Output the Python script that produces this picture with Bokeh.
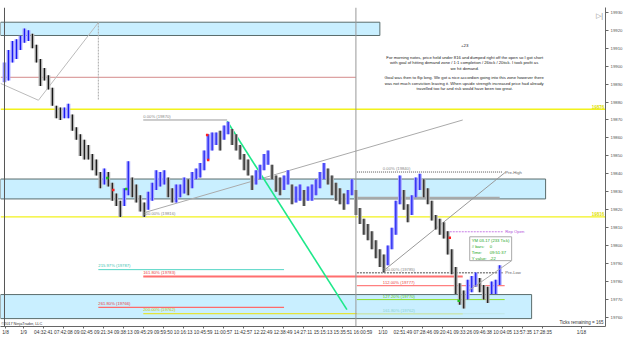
from bokeh.plotting import figure
from bokeh.models import Range1d, FixedTicker, Label, Span, ColumnDataSource, CustomJSTickFormatter
from bokeh.embed import file_html
from bokeh.resources import INLINE

FONT = "Liberation Sans"

# ---------------- data ----------------
# 233-tick bars, one entry per bar (index 0..124)
highs = [19902, 19909, 19914, 19915, 19917, 19921, 19920, 19918, 19912, 19904,
         19899, 19895, 19888, 19878, 19877, 19877, 19879, 19873, 19866, 19862,
         19859, 19856, 19851, 19848, 19841, 19843, 19841, 19835, 19829, 19825,
         19832, 19847, 19838, 19834, 19828, 19824, 19830, 19835, 19842, 19841,
         19842, 19838, 19832, 19834, 19834, 19838, 19837, 19841, 19843, 19846,
         19853, 19862, 19863, 19863, 19864, 19867, 19869, 19865, 19862, 19856,
         19851, 19848, 19839, 19842, 19845, 19851, 19853, 19845, 19839, 19838,
         19839, 19842, 19834, 19833, 19834, 19831, 19833, 19834, 19837, 19841,
         19846, 19843, 19839, 19835, 19832, 19829, 19831, 19837, 19831, 19821,
         19815, 19812, 19808, 19803, 19798, 19795, 19800, 19810, 19825, 19839,
         19831, 19823, 19828, 19838, 19840, 19837, 19832, 19825, 19817, 19815,
         19813, 19808, 19798, 19788, 19779, 19775, 19781, 19783, 19785, 19782,
         19778, 19777, 19780, 19781, 19789]
lows = [19891, 19892, 19902, 19904, 19909, 19913, 19914, 19910, 19902, 19889,
        19892, 19887, 19878, 19871, 19870, 19871, 19871, 19864, 19859, 19850,
        19848, 19848, 19842, 19839, 19832, 19834, 19833, 19825, 19822, 19816,
        19822, 19828, 19827, 19824, 19819, 19816, 19820, 19825, 19831, 19833,
        19834, 19827, 19824, 19824, 19827, 19829, 19828, 19832, 19837, 19838,
        19842, 19848, 19853, 19856, 19853, 19859, 19862, 19856, 19853, 19848,
        19842, 19839, 19831, 19834, 19837, 19842, 19845, 19837, 19830, 19828,
        19831, 19834, 19823, 19824, 19825, 19822, 19825, 19825, 19828, 19832,
        19837, 19834, 19828, 19825, 19823, 19820, 19823, 19828, 19817, 19812,
        19806, 19803, 19798, 19793, 19788, 19785, 19789, 19798, 19806, 19823,
        19820, 19813, 19817, 19827, 19831, 19827, 19823, 19814, 19809, 19806,
        19804, 19795, 19784, 19773, 19767, 19765, 19770, 19774, 19777, 19774,
        19770, 19768, 19773, 19773, 19778]
bar_index = list(range(len(highs)))

tick_labels = ["1/8", "1/9", "04:32:41", "07:42:08", "09:02:45", "09:21:34", "09:38:13",
               "09:45:29", "09:59:50", "10:16:13", "10:45:59", "11:00:57", "11:42:57",
               "12:22:49", "12:38:49", "14:27:11", "15:15:13", "15:35:51", "16:00:59",
               "1/10", "02:51:49", "07:28:46", "09:20:41", "09:33:26", "09:46:38",
               "10:04:05", "13:57:35", "17:28:35", "1/18"]
price_ticks = [19760, 19770, 19780, 19790, 19800, 19810, 19820, 19830,
               19840, 19850, 19860, 19870, 19880, 19890, 19900, 19910, 19920, 19930]

# supply / demand zones
zone_left = [-1, -1, -1]
zone_right = [94, 135.5, 132]
zone_bottom = [19917.1, 19826.0, 19759.3]
zone_top = [19924.5, 19837.1, 19772.7]

# key levels
level_yellow = [19876, 19816]
level_red_top = 19893.8
last_price = 19788

# left fibonacci extension
fibL_price = [19786.6, 19782.7, 19765.6, 19762.1]
fibL_x0 = [23.5, 34.75, 23.5, 34.75]
fibL_x1 = [70, 114.75, 70, 114.75]
fibL_text = ["215.97% (19787)", "161.80% (19783)", "261.80% (19766)", "200.00% (19762)"]
fibL_color = ["#55d6c6", "#ff6f6f", "#ff6a6a", "#e4e43a"]
fibL_tcolor = ["#3cbfb0", "#e83a3a", "#e83a3a", "#c4c400"]
fibL_width = [1, 2, 1.2, 1.2]

# right fibonacci extension
fibR_price = [19841, 19784.9, 19777.7, 19769.9, 19762.0]
fibR_text = ["0.00% (19840)", "100.00% (19785)", "112.00% (19777)", "127.20% (19770)", "161.80% (19762)"]
fibR_color = ["#555555", "#888888", "#ff8080", "#8fdf2f", "#bfe6e6"]
fibR_tcolor = ["#888888", "#888888", "#e84040", "#5cbf1c", "#8ccfcf"]
fibR_dash = ["1 1", "2 1", "solid", "solid", "solid"]
fibR_width = [1, 1.6, 1.2, 1, 1]

# signal markers
sig_red_x = [27.25, 50.75, 51, 111.5]
sig_red_y = [19831, 19861.6, 19847.7, 19804.3]
sig_grn_x = [25.75, 30.5, 113.75]
sig_grn_y = [19837.7, 19831.6, 19769.3]

notes1 = ["For morning notes, price held under 816 and dumped right off the open so I got short",
          "with goal of hitting demand zone / 1:1 completion / 26tick / 20tick.  I took profit as",
          "we hit demand."]
notes2 = ["Goal was then to flip long.  We got a nice accordion going into this zone however there",
          "was not much conviction leaving it.  When upside strength increased price had already",
          "travelled too far and risk would have been too great."]

# ---------------- figure ----------------
p = figure(width=625, height=337, x_range=Range1d(-1, 150.5), y_range=Range1d(19754.9, 19932.7),
           output_backend="svg", toolbar_location=None, y_axis_location="right",
           min_border_left=0, min_border_right=19, min_border_top=7, min_border_bottom=10,
           background_fill_color="white", border_fill_color="white", outline_line_color=None)
p.xgrid.visible = False
p.ygrid.visible = False

# axes
tick_pos = [0.25, 4.75] + [9.75 + 5 * k for k in range(26)] + [144.5]
p.xaxis.ticker = FixedTicker(ticks=tick_pos)
p.xaxis.formatter = CustomJSTickFormatter(args=dict(labels=tick_labels), code="return labels[index] || '';")
p.xaxis.major_label_text_font = FONT
p.xaxis.major_label_text_font_size = "4.8px"
p.xaxis.major_label_text_color = "#333333"
p.xaxis.major_tick_out = 2
p.xaxis.major_tick_in = 0
p.xaxis.minor_tick_out = 0
p.xaxis.minor_tick_in = 0
p.xaxis.major_label_standoff = 1
p.xaxis.axis_line_color = "#666666"
p.xaxis.major_tick_line_color = "#666666"

p.yaxis.ticker = FixedTicker(ticks=price_ticks)
p.yaxis.major_label_text_font = FONT
p.yaxis.major_label_text_font_size = "4.3px"
p.yaxis.major_label_text_color = "#555555"
p.yaxis.major_tick_out = 3
p.yaxis.major_tick_in = 0
p.yaxis.minor_tick_out = 0
p.yaxis.minor_tick_in = 0
p.yaxis.major_label_standoff = 2
p.yaxis.axis_line_color = "#666666"
p.yaxis.major_tick_line_color = "#666666"

# zones
p.quad(left=zone_left, right=zone_right, bottom=zone_bottom, top=zone_top,
       fill_color="#c9efff", line_color="#5a6c6c", line_width=1)

# session lines
p.add_layout(Span(location=0, dimension="height", line_color="#555555", line_width=1))
p.add_layout(Span(location=88, dimension="height", line_color="#999999", line_width=1))

# key horizontal levels
p.segment(x0=[-1], y0=[level_red_top], x1=[88], y1=[level_red_top], line_color="#d48a8a", line_width=1)
for lv in level_yellow:
    p.segment(x0=[-1], y0=[lv], x1=[150.5], y1=[lv], line_color="#f2f21c", line_width=1.3)
    p.add_layout(Label(x=150.2, y=lv + 0.4, text=str(lv), text_align="right", text_baseline="bottom",
                       text_font=FONT, text_font_size="4.5px", text_font_style="bold",
                       text_color="#e0e000"))

# drawing tool lines top-left
p.line(x=[-1, 8.5, 23.5], y=[19890.4, 19881, 19924.3], line_color="#bbbbbb", line_width=1)
p.segment(x0=[23.5], y0=[19924.3], x1=[23.5], y1=[19881], line_color="#aaaaaa", line_width=1, line_dash="2 1")

# left fib
p.segment(x0=[34.75], y0=[19870], x1=[55.75], y1=[19870], line_color="#9a9a9a", line_width=1)
p.segment(x0=[34.75], y0=[19818.2], x1=[114.75], y1=[19870], line_color="#aaaaaa", line_width=1)
p.add_layout(Label(x=34.75, y=19870.5, text="0.00% (19870)", text_font=FONT, text_font_size="4.2px",
                   text_color="#888888", text_baseline="bottom"))
p.add_layout(Label(x=34.75, y=19816.6, text="100.00% (19816)", text_font=FONT, text_font_size="4.2px",
                   text_color="#888888", text_baseline="bottom"))
for i in range(len(fibL_price)):
    p.segment(x0=[fibL_x0[i]], y0=[fibL_price[i]], x1=[fibL_x1[i]], y1=[fibL_price[i]],
              line_color=fibL_color[i], line_width=fibL_width[i])
    p.add_layout(Label(x=fibL_x0[i], y=fibL_price[i] + 0.7, text=fibL_text[i], text_font=FONT,
                       text_font_size="4.2px", text_color=fibL_tcolor[i], text_baseline="bottom"))

# green trend line
p.line(x=[55.75, 85.75], y=[19869.3, 19764.3], line_color="#1ee88a", line_width=1.6)

# right fib
for i in range(len(fibR_price)):
    x1 = 124.75 if i < 2 else 125.25
    p.segment(x0=[88.25], y0=[fibR_price[i]], x1=[x1], y1=[fibR_price[i]],
              line_color=fibR_color[i], line_width=fibR_width[i], line_dash=fibR_dash[i])
    p.add_layout(Label(x=94.75, y=fibR_price[i] + 0.6, text=fibR_text[i], text_font=FONT,
                       text_font_size="4.2px", text_color=fibR_tcolor[i], text_baseline="bottom"))
p.add_layout(Label(x=125.4, y=19841, text="Pre-High", text_font=FONT, text_font_size="4.2px",
                   text_color="#666666", text_baseline="middle"))
p.add_layout(Label(x=125.4, y=19784.9, text="Pre-Low", text_font=FONT, text_font_size="4.2px",
                   text_color="#666666", text_baseline="middle"))
p.segment(x0=[88.25], y0=[19826.6], x1=[124], y1=[19826.6], line_color="#aaaaaa", line_width=2)
p.segment(x0=[95.25], y0=[19786.6], x1=[125.5], y1=[19841], line_color="#999999", line_width=1)

# rep open
p.segment(x0=[110.75], y0=[19807.7], x1=[124.75], y1=[19807.7], line_color="#c77de6", line_width=1, line_dash="2 1")
p.add_layout(Label(x=125.4, y=19807.7, text="Rep Open", text_font=FONT, text_font_size="4.2px",
                   text_color="#b050d8", text_baseline="middle"))

# price bars
halo, core = [], []
for i in range(len(highs)):
    mid = (highs[i] + lows[i]) / 2
    prev = (highs[i - 1] + lows[i - 1]) / 2 if i > 0 else mid
    up = mid >= prev
    halo.append("#a3a3ff" if up else "#b4b4b4")
    core.append("#1a1af2" if up else "#151515")
src = ColumnDataSource(dict(x=bar_index, hi=highs, lo=lows, halo=halo, core=core))
p.vbar(x="x", bottom="lo", top="hi", width=0.95, fill_color="halo", line_color=None, source=src)
p.vbar(x="x", bottom="lo", top="hi", width=0.3, fill_color="core", line_color=None, source=src)

p.scatter(x=sig_red_x, y=sig_red_y, marker="square", size=2.5, fill_color="#ff2020", line_color=None)
p.scatter(x=sig_grn_x, y=sig_grn_y, marker="square", size=2.5, fill_color="#20c020", line_color=None)

# info box
p.segment(x0=[116.25], y0=[19774.9], x1=[127], y1=[19791.6], line_color="#aaaaaa", line_width=1)
p.quad(left=[116.5], right=[127], bottom=[19791.6], top=[19804.9], fill_color="white",
       line_color="#aaaaaa", line_width=1)
info_rows = [("YM 03-17 (233 Tick)", ""), ("# bars:", "0"), ("Time:", "09:51:37"), ("Y value:", "-22")]
for k, (a, b) in enumerate(info_rows):
    yy = 19802.6 - k * 3.3
    p.add_layout(Label(x=117, y=yy, text=a, text_font=FONT, text_font_size="4.2px",
                       text_color="#22a622", text_baseline="middle"))
    if b:
        p.add_layout(Label(x=121.5, y=yy, text=b, text_font=FONT, text_font_size="4.2px",
                           text_color="#22a622", text_baseline="middle"))

# notes
p.add_layout(Label(x=115.25, y=19911.6, text="+23", text_font=FONT, text_font_size="4.4px",
                   text_color="#222222", text_align="center", text_baseline="middle"))
for k, t in enumerate(notes1):
    p.add_layout(Label(x=115.25, y=19904.9 - k * 3.05, text=t, text_font=FONT, text_font_size="4.2px",
                       text_color="#222222", text_align="center", text_baseline="middle"))
for k, t in enumerate(notes2):
    p.add_layout(Label(x=115.25, y=19893.6 - k * 3.05, text=t, text_font=FONT, text_font_size="4.2px",
                       text_color="#222222", text_align="center", text_baseline="middle"))

# misc texts
p.add_layout(Label(x=150, y=19757.2, text="Ticks remaining = 165", text_font=FONT, text_font_size="4.5px",
                   text_color="#333333", text_align="right", text_baseline="middle"))
p.add_layout(Label(x=-0.8, y=19756.4, text="\u00a92017 NinjaTrader, LLC", text_font=FONT,
                   text_font_size="3.8px", text_color="#333333", text_baseline="middle"))
p.add_layout(Label(x=-0.6, y=19934.7, text="YM 03-17 \u25be  233 Tick \u25be", text_font=FONT,
                   text_font_size="4.3px", text_color="#333333", text_baseline="middle"))
p.add_layout(Label(x=148.2, y=19928.3, text="\u25b7|", text_font=FONT, text_font_size="7px",
                   text_color="#888888", text_baseline="middle"))
p.add_layout(Label(x=151.2, y=last_price, text=str(last_price), text_font=FONT, text_font_size="4.3px",
                   text_color="#222222", text_baseline="middle", background_fill_color="#f5a623",
                   border_line_color="#c47a00", padding=1))

open("out.html", "w").write(file_html(p, INLINE))
